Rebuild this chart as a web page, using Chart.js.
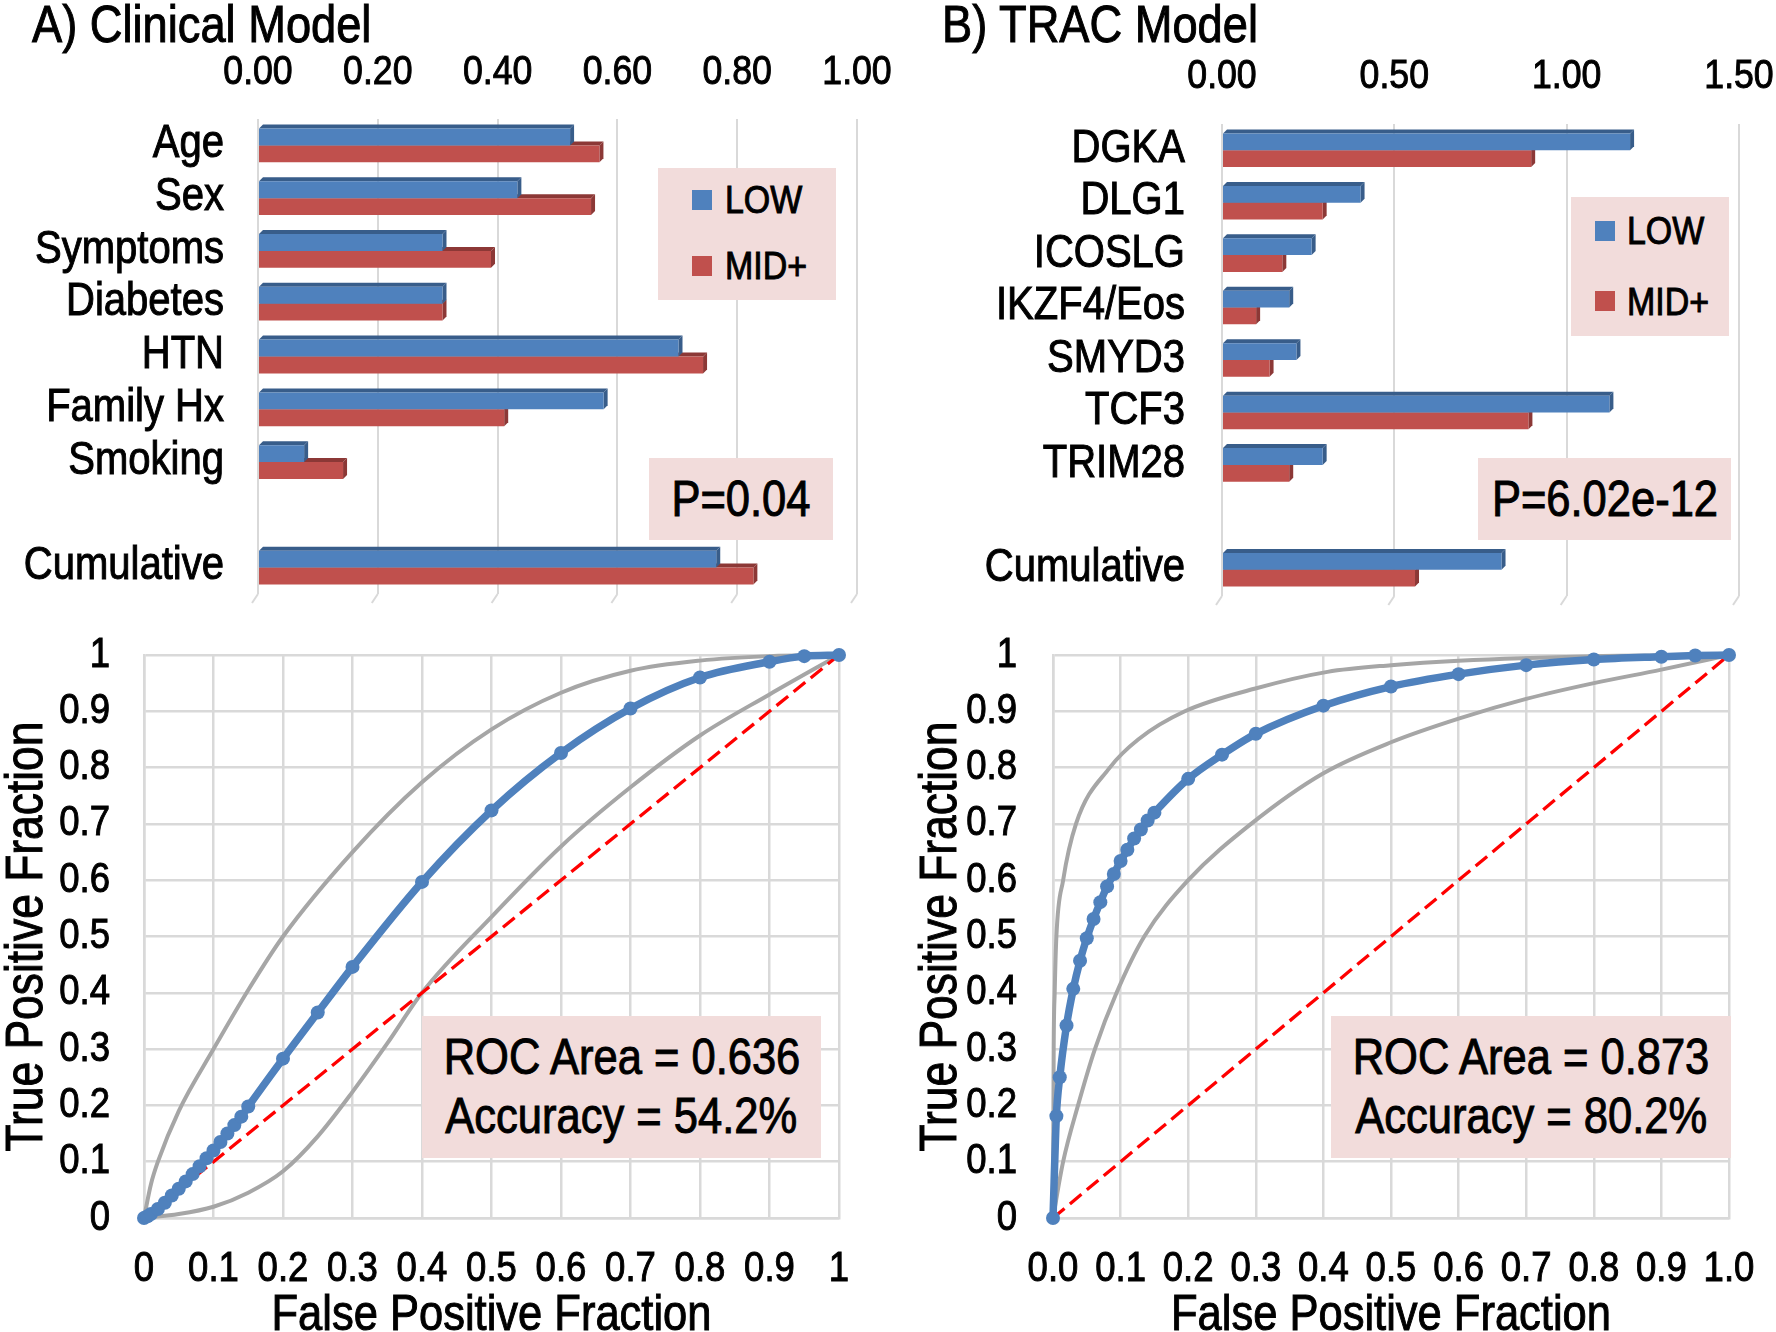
<!DOCTYPE html>
<html>
<head>
<meta charset="utf-8">
<script src="https://cdn.jsdelivr.net/npm/chart.js@4.4.1/dist/chart.umd.min.js"></script>
<style>
  html, body { margin: 0; padding: 0; background: #fff; overflow: hidden; }
  body { width: 1776px; height: 1332px; position: relative; color: #000;
         font-family: "Liberation Sans", Arial, sans-serif; -webkit-text-stroke: 1px #000; }
  .panel { position: absolute; }
  .title { position: absolute; top: -2px; font-size: 52px; line-height: 52px; white-space: nowrap; }
  .box { position: absolute; background: #F2DCDB; white-space: nowrap; }
  .center { display: flex; flex-direction: column; justify-content: center; align-items: center; font-size: 50px; }
  .sq { position: absolute; width: 20px; height: 20px; }
  .lt { position: absolute; font-size: 39px; line-height: 39px; }
  /* narrow the glyphs a bit, the original used Calibri */
  .nl { display: inline-block; transform: scaleX(0.87); transform-origin: left center; }
  .nc { display: inline-block; transform: scaleX(0.87); transform-origin: center center; }
</style>
</head>
<body>

<div class="title" style="left:32px"><span class="nl">A) Clinical Model</span></div>
<div class="title" style="left:942px"><span class="nl">B) TRAC Model</span></div>

<div class="panel" style="left:0;top:0;width:900px;height:610px"><canvas id="barA"></canvas></div>
<div class="panel" style="left:890px;top:0;width:886px;height:610px"><canvas id="barB"></canvas></div>
<div class="panel" style="left:0;top:610px;width:900px;height:760px"><canvas id="rocA"></canvas></div>
<div class="panel" style="left:890px;top:610px;width:886px;height:760px"><canvas id="rocB"></canvas></div>

<!-- legends and annotation boxes -->
<div class="box" style="left:658px;top:168px;width:178px;height:132px">
  <div class="sq" style="left:34px;top:22px;background:#4F81BD"></div><div class="lt" style="left:67px;top:12px"><span class="nl">LOW</span></div>
  <div class="sq" style="left:34px;top:88px;background:#C0504D"></div><div class="lt" style="left:67px;top:78px"><span class="nl">MID+</span></div>
</div>
<div class="box" style="left:1571px;top:197px;width:158px;height:139px">
  <div class="sq" style="left:24px;top:24px;background:#4F81BD"></div><div class="lt" style="left:56px;top:14px"><span class="nl">LOW</span></div>
  <div class="sq" style="left:24px;top:94px;background:#C0504D"></div><div class="lt" style="left:56px;top:85px"><span class="nl">MID+</span></div>
</div>
<div class="box center" style="left:649px;top:458px;width:184px;height:82px"><span class="nc">P=0.04</span></div>
<div class="box center" style="left:1478px;top:458px;width:253px;height:82px"><span class="nc">P=6.02e-12</span></div>
<div class="box center" style="left:422px;top:1016px;width:399px;height:142px;line-height:59px">
  <span class="nc">ROC Area = 0.636</span><span class="nc">Accuracy = 54.2%</span></div>
<div class="box center" style="left:1331px;top:1016px;width:400px;height:142px;line-height:59px">
  <span class="nc">ROC Area = 0.873</span><span class="nc">Accuracy = 80.2%</span></div>

<script>
// bar panels
var clinicalLabels = ['Age', 'Sex', 'Symptoms', 'Diabetes', 'HTN', 'Family Hx', 'Smoking', '', 'Cumulative'];
var clinicalLow = [0.521, 0.433, 0.308, 0.308, 0.702, 0.577, 0.077, null, 0.765];
var clinicalMid = [0.570, 0.556, 0.389, 0.308, 0.743, 0.411, 0.142, null, 0.827];
var tracLabels = ['DGKA', 'DLG1', 'ICOSLG', 'IKZF4/Eos', 'SMYD3', 'TCF3', 'TRIM28', '', 'Cumulative'];
var tracLow = [1.184, 0.402, 0.260, 0.195, 0.216, 1.124, 0.292, null, 0.811];
var tracMid = [0.897, 0.292, 0.175, 0.099, 0.138, 0.889, 0.195, null, 0.560];

// ROC panels: fitted curve points, then upper and lower bounds
var clinFpf = [0, 0.005, 0.01, 0.02, 0.03, 0.04, 0.05, 0.06, 0.07, 0.08, 0.09, 0.1, 0.11, 0.12, 0.13, 0.14, 0.15, 0.2, 0.25, 0.3, 0.4, 0.5, 0.6, 0.7, 0.8, 0.9, 0.95, 1];
var clinTpf = [0, 0.003, 0.007, 0.016, 0.027, 0.04, 0.052, 0.065, 0.078, 0.092, 0.106, 0.12, 0.135, 0.15, 0.165, 0.18, 0.198, 0.283, 0.365, 0.446, 0.597, 0.724, 0.826, 0.905, 0.96, 0.988, 0.998, 1];
var clinUpX = [0, 0.01, 0.02, 0.05, 0.1, 0.15, 0.2, 0.3, 0.4, 0.5, 0.6, 0.7, 0.8, 0.9, 1];
var clinUpY = [0, 0.06, 0.1, 0.19, 0.3, 0.405, 0.5, 0.65, 0.774, 0.868, 0.933, 0.972, 0.99, 0.998, 1];
var clinLoX = [0, 0.05, 0.1, 0.15, 0.2, 0.25, 0.3, 0.35, 0.4, 0.5, 0.6, 0.7, 0.8, 0.9, 1];
var clinLoY = [0, 0.007, 0.02, 0.045, 0.083, 0.145, 0.224, 0.31, 0.4, 0.535, 0.66, 0.765, 0.857, 0.93, 1];

var tracFpf = [0, 0.005, 0.01, 0.02, 0.03, 0.04, 0.05, 0.06, 0.07, 0.08, 0.09, 0.1, 0.11, 0.12, 0.13, 0.14, 0.15, 0.2, 0.25, 0.3, 0.4, 0.5, 0.6, 0.7, 0.8, 0.9, 0.95, 1];
var tracTpf = [0, 0.181, 0.25, 0.342, 0.407, 0.457, 0.497, 0.531, 0.561, 0.589, 0.611, 0.634, 0.654, 0.674, 0.69, 0.706, 0.72, 0.78, 0.823, 0.86, 0.91, 0.944, 0.966, 0.982, 0.992, 0.997, 0.999, 1];
var tracUpX = [0, 0.001, 0.0025, 0.005, 0.015, 0.034, 0.084, 0.126, 0.195, 0.298, 0.406, 0.5, 0.6, 0.8, 1];
var tracUpY = [0, 0.3, 0.4, 0.5, 0.6, 0.7, 0.8, 0.85, 0.9, 0.94, 0.97, 0.982, 0.99, 0.998, 1];
var tracLoX = [0, 0.015, 0.037, 0.062, 0.094, 0.135, 0.2, 0.293, 0.4, 0.5, 0.6, 0.7, 0.8, 0.9, 1];
var tracLoY = [0, 0.1, 0.2, 0.3, 0.4, 0.5, 0.6, 0.7, 0.79, 0.845, 0.887, 0.922, 0.95, 0.974, 1];

var BLUE = '#4F81BD', RED = '#C0504D', GRID = '#D9D9D9';

// squeeze canvas glyphs the same way as the html text above
var SQUEEZE = 0.87;
var proto = CanvasRenderingContext2D.prototype;
var fillText0 = proto.fillText, strokeText0 = proto.strokeText, measureText0 = proto.measureText;
proto.fillText = function(text, x, y) {
  this.save();
  this.translate(x, y);
  this.scale(SQUEEZE, 1);
  fillText0.call(this, text, 0, 0);
  this.setLineDash([]);
  this.lineWidth = 1;
  this.strokeStyle = this.fillStyle;
  strokeText0.call(this, text, 0, 0);
  this.restore();
};
proto.measureText = function(text) {
  var m = measureText0.call(this, text);
  return { width: m.width * SQUEEZE, actualBoundingBoxAscent: m.actualBoundingBoxAscent,
           actualBoundingBoxDescent: m.actualBoundingBoxDescent };
};

Chart.defaults.font.family = '"Liberation Sans", Arial, sans-serif';
Chart.defaults.color = '#000';

function fixSize(w, h) {
  return function(scale) {
    if (w) scale.width = w;
    if (h) scale.height = h;
    scale.paddingLeft = scale.paddingRight = scale.paddingTop = scale.paddingBottom = 0;
  };
}

function pts(xs, ys) {
  return xs.map(function(x, i) { return {x: x, y: ys[i]}; });
}

// darker top and right faces, like the excel 3d bars
var bar3d = {
  id: 'bar3d',
  beforeDatasetsDraw: function(chart) {
    var ctx = chart.ctx, d = 4;
    var dark = ['#385D8A', '#8C3836'];
    var xs = chart.scales.x, bottom = chart.chartArea.bottom;
    ctx.save();
    ctx.strokeStyle = GRID;
    ctx.lineWidth = 2;
    xs.ticks.forEach(function(t) {
      var px = xs.getPixelForValue(t.value);
      ctx.beginPath();
      ctx.moveTo(px, bottom);
      ctx.lineTo(px - 6, bottom + 9);
      ctx.stroke();
    });
    for (var i = chart.data.datasets.length - 1; i >= 0; i--) {
      var ds = chart.data.datasets[i];
      chart.getDatasetMeta(i).data.forEach(function(bar, j) {
        if (ds.data[j] == null) return;
        var p = bar.getProps(['x', 'y', 'base', 'height'], true);
        var top = p.y - p.height / 2, bot = p.y + p.height / 2;
        ctx.fillStyle = dark[i];
        ctx.beginPath();
        ctx.moveTo(p.base, top); ctx.lineTo(p.base + d, top - d);
        ctx.lineTo(p.x + d, top - d); ctx.lineTo(p.x, top);
        ctx.closePath(); ctx.fill();
        ctx.beginPath();
        ctx.moveTo(p.x, top); ctx.lineTo(p.x + d, top - d);
        ctx.lineTo(p.x + d, bot - d); ctx.lineTo(p.x, bot);
        ctx.closePath(); ctx.fill();
      });
    }
    ctx.restore();
  }
};

function barChart(id, labels, low, mid, max, step, yWidth, xHeight, tickPad, labelPad, padRight, padBottom) {
  new Chart(document.getElementById(id), {
    type: 'bar',
    data: {
      labels: labels,
      datasets: [
        { label: 'LOW', data: low, backgroundColor: BLUE },
        { label: 'MID+', data: mid, backgroundColor: RED }
      ]
    },
    options: {
      indexAxis: 'y',
      animation: false,
      responsive: true,
      maintainAspectRatio: false,
      devicePixelRatio: 1,
      categoryPercentage: 0.64,
      barPercentage: 1.0,
      layout: { padding: { top: 0, left: 0, right: padRight, bottom: padBottom } },
      plugins: { legend: { display: false }, tooltip: { enabled: false } },
      scales: {
        x: {
          position: 'top', min: 0, max: max,
          afterFit: fixSize(0, xHeight),
          grid: { color: GRID, lineWidth: 2, drawTicks: false },
          border: { display: false },
          ticks: { stepSize: step, padding: tickPad, font: { size: 41 },
                   callback: function(v) { return v.toFixed(2); } }
        },
        y: {
          afterFit: fixSize(yWidth, 0),
          grid: { display: false, drawTicks: false },
          border: { display: false },
          ticks: { autoSkip: false, padding: labelPad, labelOffset: -1, font: { size: 46 } }
        }
      }
    },
    plugins: [bar3d]
  });
}

function rocChart(id, fpf, tpf, upX, upY, loX, loY, xFmt, yWidth, yTitlePad, yTickPad, padRight) {
  new Chart(document.getElementById(id), {
    type: 'line',
    data: {
      datasets: [
        { data: pts(fpf, tpf), borderColor: BLUE, backgroundColor: BLUE, borderWidth: 7.5,
          pointRadius: 7, pointBorderWidth: 0, cubicInterpolationMode: 'monotone', clip: false },
        { data: pts([0, 1], [0, 1]), borderColor: '#FF0000', borderWidth: 3.3, borderDash: [15, 7],
          pointRadius: 0, clip: false },
        { data: pts(upX, upY), borderColor: '#A6A6A6', borderWidth: 4, pointRadius: 0,
          cubicInterpolationMode: 'monotone', clip: false },
        { data: pts(loX, loY), borderColor: '#A6A6A6', borderWidth: 4, pointRadius: 0,
          cubicInterpolationMode: 'monotone', clip: false }
      ]
    },
    options: {
      animation: false,
      responsive: true,
      maintainAspectRatio: false,
      devicePixelRatio: 1,
      layout: { padding: { top: 45, left: 0, right: padRight, bottom: 0 } },
      plugins: { legend: { display: false }, tooltip: { enabled: false } },
      scales: {
        x: {
          type: 'linear', min: 0, max: 1,
          afterFit: fixSize(0, 152),
          grid: { color: GRID, lineWidth: 2.5, drawTicks: false },
          border: { color: GRID, width: 2.5 },
          ticks: { stepSize: 0.1, autoSkip: false, padding: 26, font: { size: 42 }, callback: xFmt },
          title: { display: true, text: 'False Positive Fraction', padding: { top: 0, bottom: 29 },
                   font: { size: 50, lineHeight: 1 } }
        },
        y: {
          min: 0, max: 1,
          afterFit: fixSize(yWidth, 0),
          grid: { color: GRID, lineWidth: 2.5, drawTicks: false },
          border: { color: GRID, width: 2.5 },
          ticks: { stepSize: 0.1, autoSkip: false, padding: yTickPad, font: { size: 42 },
                   callback: function(v) { return String(Number(v.toFixed(1))); } },
          title: { display: true, text: 'True Positive Fraction', padding: { top: yTitlePad, bottom: 0 },
                   font: { size: 51, lineHeight: 1 } }
        }
      }
    }
  });
}

barChart('barA', clinicalLabels, clinicalLow, clinicalMid, 1.0, 0.2, 258, 119, 22, 34, 43, 16);
barChart('barB', tracLabels, tracLow, tracMid, 1.5, 0.5, 332, 124, 23, 37, 37, 14);

rocChart('rocA', clinFpf, clinTpf, clinUpX, clinUpY, clinLoX, clinLoY,
  function(v) { return String(Number(v.toFixed(1))); }, 144, 2, 34, 61);
rocChart('rocB', tracFpf, tracTpf, tracUpX, tracUpY, tracLoX, tracLoY,
  function(v) { return v.toFixed(1); }, 163, 26, 36, 47);
</script>
</body>
</html>
